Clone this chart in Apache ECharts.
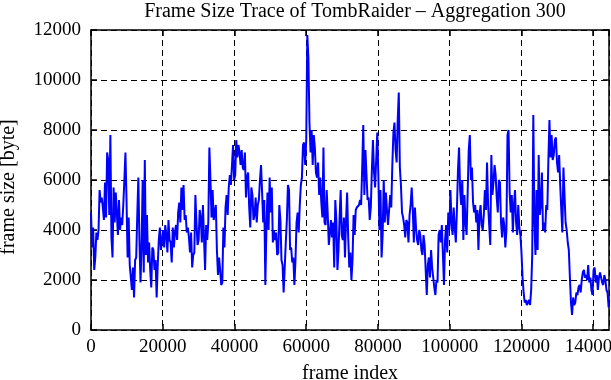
<!DOCTYPE html>
<html>
<head>
<meta charset="utf-8">
<script src="https://cdn.jsdelivr.net/npm/echarts@6/dist/echarts.min.js"></script>
<style>
  html, body { margin: 0; padding: 0; background: #fff; }
  #frameTrace { width: 611px; height: 380px; }
</style>
</head>
<body>
<div id="frameTrace"></div>
<script>
// one value per 300 aggregated frames
var aggregation = 300;
var trace0 = [4700,3300,4100,2400,2900,3900,3600,4000,5600,5100,5300,4900,4400,5900,4500,7100,6800,4600,7800,3700,
    2900,5700,4300,5500,4700,3800,5200,4000,4500,4200,5000,6000,7100,5200,2900,4500,2600,2100,1600,2500,
    1300,2800,2900,4600,6100,3600,1900,3400,6000,2300,6800,3000,4600,2700,3500,2400,1700,3300,3200,2400,
    2800,1300,2600,3600,4100,3200,3600,4000,3300,4200,3800,3100,4400,3600,3500,2700,4100,3300,3900,4200,
    3600,4700,5100,4300,5700,4800,5800,4400];
var trace1 = [4600,3900,4100,3700,3100,3900,2500,3000,3100,5400,4300,3400,3600,4800,4500,3500,5000,3700,2400,4200,
    3600,4300,7300,6000,4500,5600,4400,4700,5000,3200,2200,2900,2400,1800,1900,4100,3300,4900,5400,4600,
    5700,6200,5800,6600,7400,6000,6200,7600,6900,7400,7100,6600,7200,6500,6400,7100,5300,6100,6300,4900,
    4100,5700,5400,4400,4600,5300,4300,5000,5200,6000,6600,5500,4300,5200,1800,4100,5500,4000,6100,4700,
    5700,3500,4000,3600];
var trace2 = [3900,3000,3100,5000,4400,2800,2600,1500,1500,3500,4400,5800,5600,3200,3300,2700,2900,1800,2800,4300,
    4700,3900,5000,5800,6100,7400,7500,6600,7600,11800,10900,8300,7100,8000,6600,7800,7300,6300,6100,6700,
    5400,6100,5100,4500,7300,4300,4200,5600,4600,3400,3900,4400,3700,4300,2500,5200,4400,2400,3200,4500,
    5600,3800,3600,4500,2900,4400,5500,3700,2500,3100,2000,2800,4600,3800,4800,4900,4900,5000,5200,5000,
    6500,8200,5400,7200];
var trace3 = [6200,5200,5300,4400,4900,6400,7600,6300,5700,6800,7900,6200,4000,5600,2900,3800,6000,4300,5500,4800,
    4200,4800,5400,4900,6600,7900,8300,7200,6700,8400,9500,6500,5800,4700,4500,4200,3700,4400,4300,3500,
    4600,5000,5700,4800,3500,4900,4100,3600,3400,4000,3800,3200,3000,3800,3400,2400,1400,2600,2900,2100,
    3200,2500,2500,1700,1400,2000,1900,3800,4000,3500,4200,3000,1800,3600,4200,3100,4700,4000,5600,4300,
    3800,4900,4100,3500];
var trace4 = [4800,6400,7300,5600,5000,6000,3600,5400,4300,3800,5500,7200,7800,6000,6500,5100,4700,5000,4300,4800,
    3200,4600,5000,4200,4000,4600,5600,4800,6700,5000,4200,3400,7000,5400,5900,6600,6200,5300,4700,6000,
    5900,4300,3700,4500,4200,3300,4000,7800,8000,5500,4700,5400,3900,5000,5600,4300,3800,5000,4100,3800,
    3100,2100,1500,1100,1200,1000,1100,1200,1000,1600,3000,8600,4400,3000,5600,3200,7000,4600,5000,6300,
    4000,4300];
var trace5 = [3900,5000,4800,6800,8400,6900,7800,6800,7000,7600,7700,6700,6300,7000,5800,4800,3900,6500,5400,4300,
    4000,3500,3200,2100,1100,600,1300,1000,1100,1500,1400,1700,1800,1500,2000,2300,2400,2100,2200,2000,
    2600,1900,2100,1600,1400,2400,2500,1900,2200,1600,2100,2300,2300,1900,1800,2200,2000,1600,1500,900];

var xTicks = [0, 20000, 40000, 60000, 80000, 100000, 120000, 140000];
var yTicks = [0, 2000, 4000, 6000, 8000, 10000, 12000];
var xMax = 144400;

var frameSize = trace0.concat(trace1, trace2, trace3, trace4, trace5);
var points = frameSize.map(function (v, i) { return [i * aggregation, v]; });

var serif = '"Liberation Serif", "Times New Roman", serif';

function plain(v) { return String(v); }

function frameAxis(pos, main) {
    return {
        type: 'value',
        position: pos,
        min: xTicks[0],
        max: xMax,
        interval: xTicks[1] - xTicks[0],
        name: main ? 'frame index' : '',
        nameLocation: 'middle',
        nameGap: 34,
        nameTextStyle: { fontFamily: serif, fontSize: 20, color: '#000' },
        axisLine: { show: true, onZero: false, lineStyle: { color: '#000', width: 1.5 } },
        axisTick: { show: true, inside: true, length: 6, lineStyle: { color: '#000', width: 1.5 } },
        axisLabel: {
            show: main, showMaxLabel: false, margin: 8, formatter: plain,
            fontFamily: serif, fontSize: 19, color: '#000'
        },
        splitLine: main ? { show: true, lineStyle: { color: '#000', width: 1, type: [6, 4] } } : { show: false }
    };
}

function sizeAxis(pos, main) {
    return {
        type: 'value',
        position: pos,
        min: yTicks[0],
        max: yTicks[yTicks.length - 1],
        interval: yTicks[1] - yTicks[0],
        name: main ? 'frame size [byte]' : '',
        nameLocation: 'middle',
        nameGap: 72,
        nameTextStyle: { fontFamily: serif, fontSize: 20, color: '#000', padding: [0, 14, 0, 0] },
        axisLine: { show: true, onZero: false, lineStyle: { color: '#000', width: 1.5 } },
        axisTick: { show: true, inside: true, length: 6, lineStyle: { color: '#000', width: 1.5 } },
        axisLabel: { show: main, margin: 10, formatter: plain, fontFamily: serif, fontSize: 19, color: '#000' },
        splitLine: main ? { show: true, lineStyle: { color: '#000', width: 1, type: [6, 4] } } : { show: false }
    };
}

var chart = echarts.init(document.getElementById('frameTrace'));
var option = {
    animation: false,
    backgroundColor: '#fff',
    title: {
        text: 'Frame Size Trace of TombRaider \u2013 Aggregation 300',
        left: 350,
        textAlign: 'center',
        top: -3,
        textStyle: { fontFamily: serif, fontSize: 20, fontWeight: 'normal', color: '#000' }
    },
    grid: { left: 91, right: 2, top: 30, bottom: 50, containLabel: false, outerBoundsMode: 'none' },
    xAxis: [frameAxis('bottom', true), frameAxis('top', false)],
    yAxis: [sizeAxis('left', true), sizeAxis('right', false)],
    series: [{
        type: 'line',
        data: points,
        showSymbol: false,
        symbol: 'none',
        lineStyle: { color: '#0000ff', width: 2 },
        clip: true
    }]
};
chart.setOption(option);
window.addEventListener('resize', function () {
    chart.resize();
});
</script>
</body>
</html>
